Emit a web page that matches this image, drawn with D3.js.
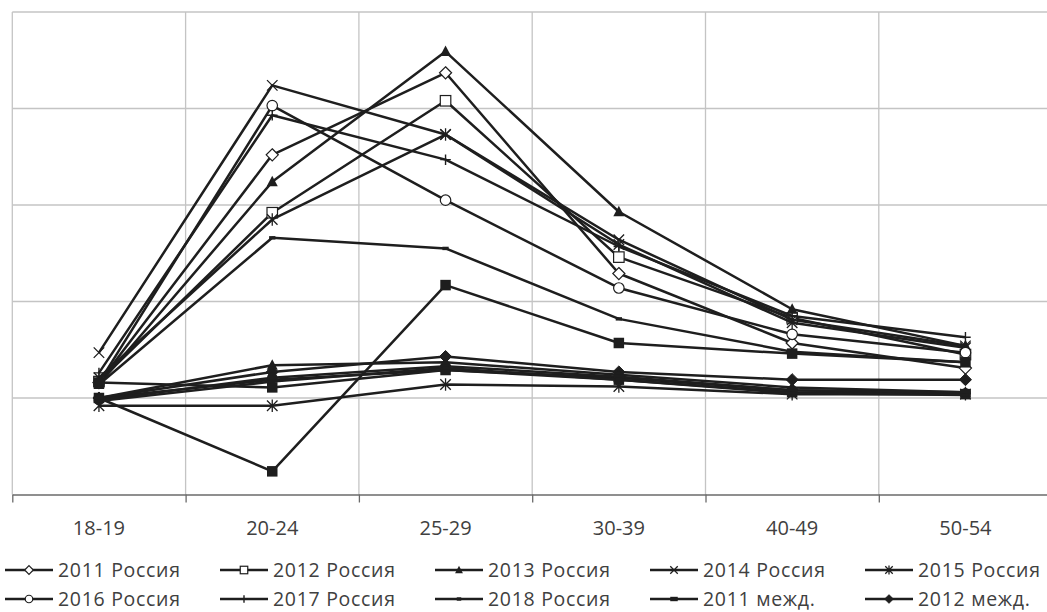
<!DOCTYPE html>
<html><head><meta charset="utf-8">
<script src="https://cdn.jsdelivr.net/npm/d3@7"></script>
<style>
body{margin:0;background:#fff;}
svg{display:block;}
text{font-family:"Open Sans",sans-serif;fill:#404040;}
</style>
</head><body>
<svg id="chart" width="1047" height="612"></svg>
<script>
// ---- data ----
const categories = ["18-19","20-24","25-29","30-39","40-49","50-54"];
const yTicks = [0,1,2,3,4,5];

const seriesNames = ["2011 Россия","2012 Россия","2013 Россия","2014 Россия","2015 Россия",
  "2016 Россия","2017 Россия","2018 Россия","2011 межд.","2012 межд.",
  "2013 межд.","2014 межд.","2015 межд.","2016 межд.","2017 межд.","2018 межд."];
const seriesMarkers = ["diamondOpen","squareOpen","triangle","x","star",
  "circleOpen","plus","dash","longDash","diamond",
  "square","triangle","star","circle","square","dash"];
const legendCount = 10;

const r2011 = [1.16, 3.52, 4.37, 2.29, 1.57, 1.31];
const r2012 = [1.17, 2.92, 4.08, 2.46, 1.83, 1.45];
const r2013 = [1.14, 3.24, 4.59, 2.93, 1.92, 1.54];
const r2014 = [1.47, 4.24, 3.73, 2.64, 1.81, 1.54];
const r2015 = [1.21, 2.85, 3.73, 2.59, 1.78, 1.52];
const r2016 = [1.16, 4.03, 3.05, 2.14, 1.66, 1.47];
const r2017 = [1.26, 3.93, 3.47, 2.57, 1.85, 1.63];
const r2018 = [1.14, 2.66, 2.55, 1.82, 1.48, 1.37];
const i2011 = [1.00, 1.19, 1.29, 1.21, 1.08, 1.06];
const i2012 = [1.00, 1.27, 1.43, 1.27, 1.19, 1.19];
const i2013 = [1.00, 0.24, 2.17, 1.57, 1.46, 1.37];
const i2014 = [1.00, 1.34, 1.37, 1.24, 1.11, 1.06];
const i2015 = [0.92, 0.92, 1.14, 1.12, 1.04, 1.04];
const i2016 = [0.98, 1.21, 1.33, 1.22, 1.08, 1.05];
const i2017 = [1.16, 1.11, 1.29, 1.19, 1.06, 1.04];
const i2018 = [0.97, 1.17, 1.31, 1.19, 1.05, 1.03];

const seriesValues = [r2011,r2012,r2013,r2014,r2015,r2016,r2017,r2018,
  i2011,i2012,i2013,i2014,i2015,i2016,i2017,i2018];

const series = seriesNames.map((n,i)=>({name:n, marker:seriesMarkers[i], values:seriesValues[i]}));

// ---- layout ----
const svg = d3.select("#chart");
const plotLeft = 12.3, bandW = 173.3, plotTop = 12, plotBottom = 494.5;
const x = d3.scaleBand().domain(categories).range([plotLeft, plotLeft + bandW*categories.length]).padding(0);
const xEdge = d3.scaleLinear().domain([0, categories.length]).range([plotLeft, plotLeft + bandW*categories.length]);
const y = d3.scaleLinear().domain([0,5]).range([plotBottom, plotTop]);
const cx = c => x(c) + x.bandwidth()/2;

const grid = svg.append("g");
grid.selectAll("line.h").data(yTicks.filter(t=>t>0)).join("line").attr("class","h")
  .attr("x1", plotLeft).attr("x2", 1047).attr("y1", d=>y(d)).attr("y2", d=>y(d))
  .attr("stroke", "#c4c4c4").attr("stroke-width", 1.3);
grid.selectAll("line.v").data(d3.range(0, categories.length+1)).join("line").attr("class","v")
  .attr("x1", d=>xEdge(d)).attr("x2", d=>xEdge(d)).attr("y1", plotTop).attr("y2", plotBottom)
  .attr("stroke", "#c4c4c4").attr("stroke-width", 1.3);

const axTicks = svg.append("g").attr("transform", `translate(0,${plotBottom})`)
  .call(d3.axisBottom(xEdge).tickValues(d3.range(0, categories.length+1)).tickFormat("").tickSize(8).tickSizeOuter(0));
axTicks.select(".domain").attr("stroke", "#6a6a6a").attr("stroke-width", 1.3);
axTicks.selectAll(".tick line").attr("stroke", "#6a6a6a").attr("stroke-width", 1.3);

const axLabels = svg.append("g").attr("transform", `translate(0,${plotBottom})`)
  .call(d3.axisBottom(x).tickSize(0).tickPadding(26));
axLabels.select(".domain").remove();
axLabels.selectAll("text").attr("font-size", 20).attr("font-family", "'Open Sans',sans-serif").attr("fill", "#404040");

// ---- marker drawing ----
function marker(g, type, s) {
  const r = s/2;
  const k = "#1e1e1e";
  switch(type) {
    case "diamondOpen":
      g.append("path").attr("d", `M0,${-r*1.15}L${r*1.15},0L0,${r*1.15}L${-r*1.15},0Z`).attr("fill","#fff").attr("stroke",k).attr("stroke-width",1.2); break;
    case "diamond":
      g.append("path").attr("d", `M0,${-r*1.15}L${r*1.15},0L0,${r*1.15}L${-r*1.15},0Z`).attr("fill",k).attr("stroke",k).attr("stroke-width",1); break;
    case "squareOpen":
      g.append("rect").attr("x",-r).attr("y",-r).attr("width",s).attr("height",s).attr("fill","#fff").attr("stroke",k).attr("stroke-width",1.2); break;
    case "square":
      g.append("rect").attr("x",-r).attr("y",-r).attr("width",s).attr("height",s).attr("fill",k); break;
    case "triangle":
      g.append("path").attr("d", `M0,${-r*1.15}L${r*1.05},${r*0.85}L${-r*1.05},${r*0.85}Z`).attr("fill",k); break;
    case "circleOpen":
      g.append("circle").attr("r", r).attr("fill","#fff").attr("stroke",k).attr("stroke-width",1.2); break;
    case "circle":
      g.append("circle").attr("r", r).attr("fill",k); break;
    case "x":
      g.append("path").attr("d", `M${-r},${-r}L${r},${r}M${-r},${r}L${r},${-r}`).attr("stroke",k).attr("stroke-width",1.3).attr("fill","none"); break;
    case "star":
      g.append("path").attr("d", `M${-r},${-r}L${r},${r}M${-r},${r}L${r},${-r}M0,${-r*1.2}L0,${r*1.2}`).attr("stroke",k).attr("stroke-width",1.3).attr("fill","none"); break;
    case "plus":
      g.append("path").attr("d", `M${-r},0L${r},0M0,${-r}L0,${r}`).attr("stroke",k).attr("stroke-width",1.4).attr("fill","none"); break;
    case "dash":
      g.append("rect").attr("x",-r*0.6).attr("y",-1.7).attr("width",s*0.6).attr("height",3.4).attr("fill",k); break;
    case "longDash":
      g.append("rect").attr("x",-r).attr("y",-2.2).attr("width",s).attr("height",4.4).attr("fill",k); break;
  }
}

// ---- series ----
const line = d3.line().x((d,i)=>cx(categories[i])).y(d=>y(d));
const plot = svg.append("g");
series.forEach(s => {
  const g = plot.append("g");
  g.append("path").attr("d", line(s.values)).attr("fill","none").attr("stroke","#1e1e1e").attr("stroke-width",2.5).attr("stroke-linejoin","round");
  g.selectAll("g.m").data(s.values).join("g").attr("class","m")
    .attr("transform", (d,i)=>`translate(${cx(categories[i])},${y(d)})`)
    .each(function(){ marker(d3.select(this), s.marker, 10.5); });
});

// ---- legend ----
const legend = svg.append("g");
const legX0 = 5, legDX = 215, legY = [570, 599];
series.slice(0, legendCount).forEach((s,i) => {
  const col = i % 5, row = Math.floor(i/5);
  const g = legend.append("g").attr("transform", `translate(${legX0 + col*legDX},${legY[row]})`);
  g.append("line").attr("x1",0).attr("x2",48).attr("y1",0).attr("y2",0).attr("stroke","#1e1e1e").attr("stroke-width",2.5);
  const m = g.append("g").attr("transform","translate(24,0)");
  marker(m, s.marker, 7.5);
  g.append("text").attr("x",53).attr("y",0).attr("dy","0.36em").attr("font-size",19.5).attr("letter-spacing",0.7).text(s.name);
});
</script>
</body></html>
